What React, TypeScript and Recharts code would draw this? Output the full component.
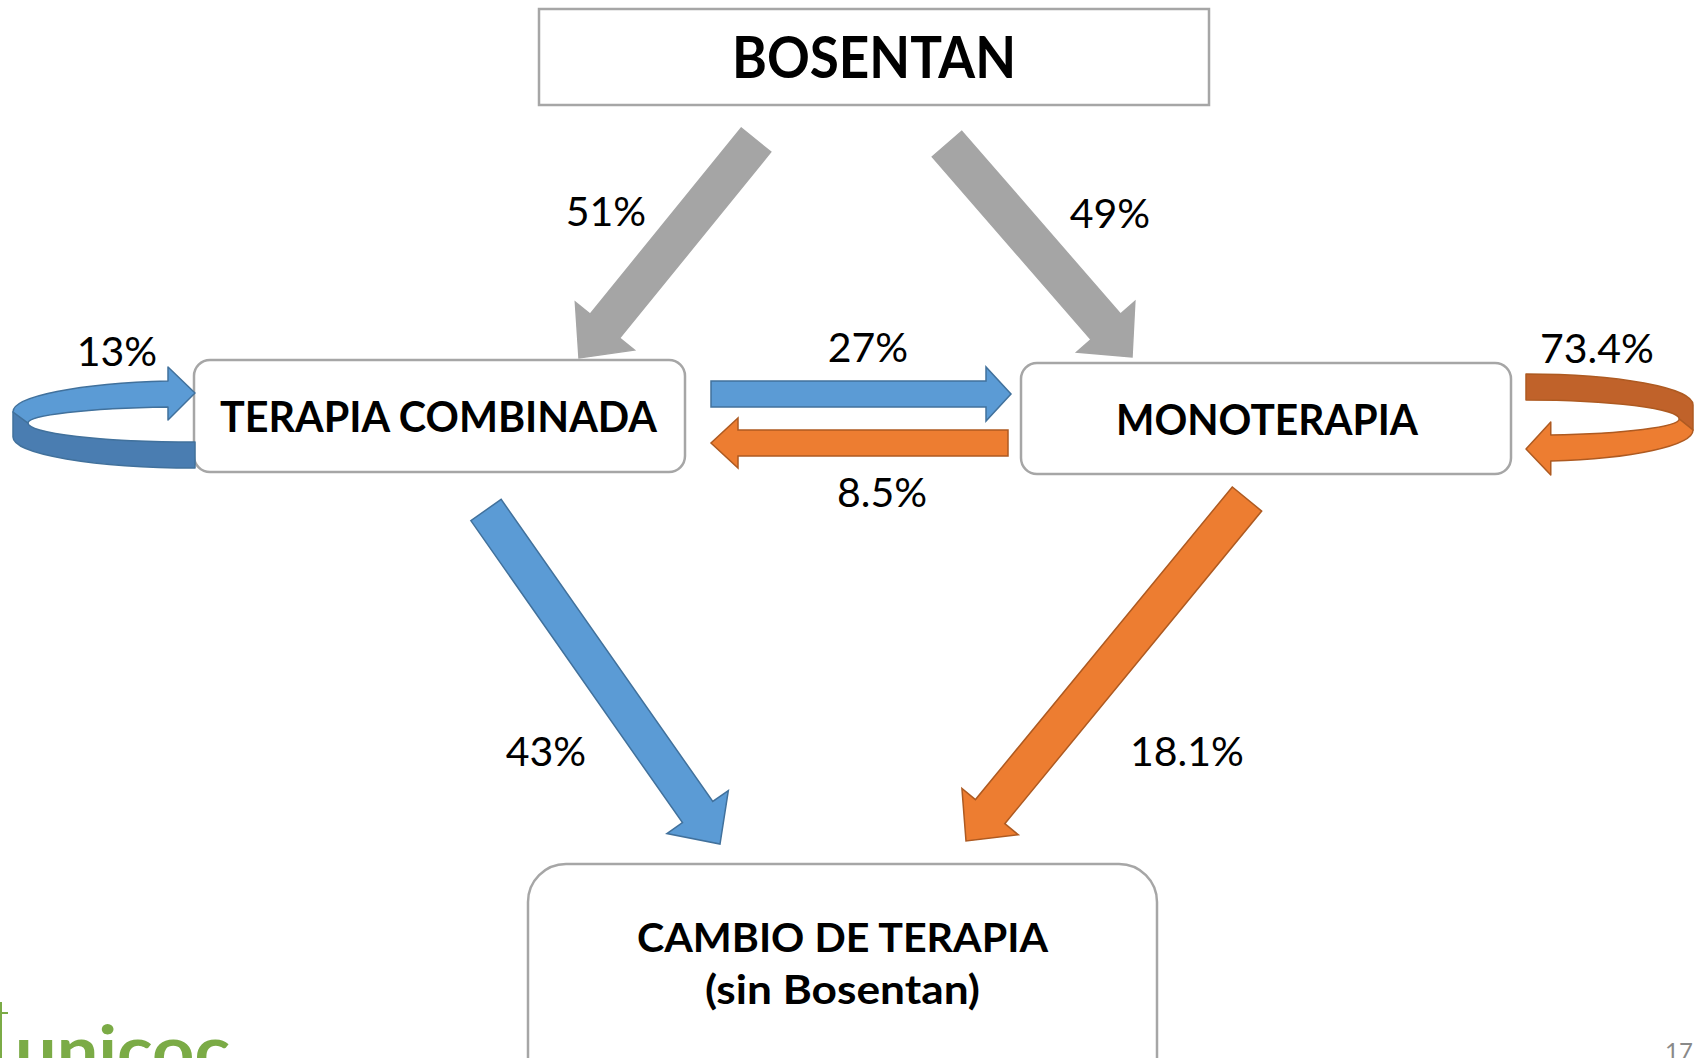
import React from 'react';
import { ScatterChart, Scatter, XAxis, YAxis, ReferenceArea, ReferenceLine } from 'recharts';

// ---------------- data ----------------
const nodeNames = ['BOSENTAN', 'TERAPIA COMBINADA', 'MONOTERAPIA', 'CAMBIO DE TERAPIA'];
const nodeSubtitle = '(sin Bosentan)';
const flowNames = [
  'Bosentan → Terapia combinada',
  'Bosentan → Monoterapia',
  'Terapia combinada → Terapia combinada',
  'Terapia combinada → Monoterapia',
  'Monoterapia → Monoterapia',
  'Monoterapia → Terapia combinada',
  'Terapia combinada → Cambio de terapia',
  'Monoterapia → Cambio de terapia',
];
const flowPercents = [51, 49, 13, 27, 73.4, 8.5, 43, 18.1];
const logoText = 'unicoc';
const pageNumber = '17';

// ---------------- layout (diagram coordinates) ----------------
const W = 1694;
const H = 1058;
const FONT = "Lato, 'Liberation Sans', Arial, sans-serif";
const CAP = 0.7165;

const NODE_BOX = [
  { x1: 539, x2: 1209, y1: 9, y2: 105, r: 0 },
  { x1: 194, x2: 685, y1: 360, y2: 472, r: 16 },
  { x1: 1021, x2: 1511, y1: 363, y2: 474, r: 16 },
  { x1: 528, x2: 1157, y1: 864, y2: 1100, r: 38 },
];
const NODE_TEXT_POS = [
  [874, 57.5],
  [438.5, 417],
  [1267, 420],
  [842.5, 937.5],
];
const NODE_TEXT_SIZE = [57, 42, 42, 41];
const NODE_TEXT_LEN = [284, 437, 302, 411];
const SUBTITLE_POS = [842.5, 989.5];
const SUBTITLE_LEN = 275;

const LABEL_POS = [
  [606, 211],
  [1110, 213],
  [117, 351],
  [868, 347],
  [1597, 348],
  [882, 492],
  [546, 751],
  [1187, 751],
];

// straight block arrows: flow index -> tail, tip, widths
const GRAY = { fill: '#a5a5a5', stroke: '#a5a5a5' };
const BLUE = { fill: '#5b9bd5', stroke: '#41719c' };
const ORANGE = { fill: '#ed7d31', stroke: '#ae5a21' };
const ARROWS = [
  { flow: 0, tail: [756, 140], tip: [579, 358], w: 38, hw: 76, hl: 41, c: GRAY },
  { flow: 1, tail: [947, 144], tip: [1132, 357], w: 39, hw: 77, hl: 40, c: GRAY },
  { flow: 3, tail: [711, 394], tip: [1011, 394], w: 26, hw: 54, hl: 25, c: BLUE },
  { flow: 5, tail: [1008, 443], tip: [711, 443], w: 26, hw: 50, hl: 27, c: ORANGE },
  { flow: 6, tail: [486, 510], tip: [720, 844], w: 37, hw: 75, hl: 39, c: BLUE },
  { flow: 7, tail: [1247, 499], tip: [966, 841], w: 38, hw: 73, hl: 38, c: ORANGE },
];
// self loops
const LOOPS = [
  { flow: 2, x1: 13, x2: 195, y1: 367, y2: 468, side: 'left', light: '#5b9bd5', dark: '#4a7db1', stroke: '#41719c' },
  { flow: 4, x1: 1526, x2: 1693, y1: 374, y2: 475, side: 'right', light: '#ed7d31', dark: '#c0622a', stroke: '#ae5a21' },
];

// ---------------- derived tables for the chart ----------------
const labelData = flowPercents.map((v, i) => ({ x: LABEL_POS[i][0], y: LABEL_POS[i][1], text: `${v}%`, name: flowNames[i] }));
const nodeTextData = nodeNames.map((n, i) => ({ x: NODE_TEXT_POS[i][0], y: NODE_TEXT_POS[i][1], text: n, i }));
const subtitleData = [{ x: SUBTITLE_POS[0], y: SUBTITLE_POS[1], text: nodeSubtitle }];
const logoData = [{ x: 15, y: 1057, text: logoText }];
const pageData = [{ x: 1679, y: 1051.5, text: pageNumber }];

// ---------------- shapes ----------------
function blockArrowPath(x1: number, y1: number, x2: number, y2: number, w: number, hw: number, hl: number) {
  const dx = x2 - x1;
  const dy = y2 - y1;
  const L = Math.hypot(dx, dy);
  const ux = dx / L;
  const uy = dy / L;
  const nx = -uy;
  const ny = ux;
  const bx = x2 - ux * hl;
  const by = y2 - uy * hl;
  const pts = [
    [x1 + (nx * w) / 2, y1 + (ny * w) / 2],
    [bx + (nx * w) / 2, by + (ny * w) / 2],
    [bx + (nx * hw) / 2, by + (ny * hw) / 2],
    [x2, y2],
    [bx - (nx * hw) / 2, by - (ny * hw) / 2],
    [bx - (nx * w) / 2, by - (ny * w) / 2],
    [x1 - (nx * w) / 2, y1 - (ny * w) / 2],
  ];
  return 'M' + pts.map((p) => `${p[0].toFixed(2)},${p[1].toFixed(2)}`).join(' L') + ' Z';
}

function loopPaths(x: number, y: number, w: number, h: number, side: string) {
  const sx = w / 182;
  const sy = h / 101;
  const P = (u: number, v: number) =>
    side === 'left'
      ? `${(x + w - u * sx).toFixed(2)},${(y + v * sy).toFixed(2)}`
      : `${(x + u * sx).toFixed(2)},${(y + h - v * sy).toFixed(2)}`;
  const A = (rx: number, ry: number, sweep: number, u: number, v: number) =>
    `A${(rx * sx).toFixed(2)},${(ry * sy).toFixed(2)} 0 0 ${sweep} ${P(u, v)}`;
  const light =
    `M${P(27, 14)} L${P(27, 0)} L${P(0, 26)} L${P(27, 53)} L${P(27, 40)} ` +
    `${A(167, 16.2, 0, 167, 56)} L${P(182, 45)} ${A(182, 31.3, 1, 27, 14)} Z`;
  const dark =
    `M${P(182, 45)} L${P(182, 70)} ${A(182, 31, 0, 0, 101)} L${P(0, 75)} ` +
    `${A(167, 19, 1, 167, 56)} Z`;
  return { light, dark };
}

const PercentText = (props: any) => {
  const { cx, cy, payload } = props;
  const size = 41;
  return (
    <text x={cx} y={cy + (size * CAP) / 2} textAnchor="middle" fontFamily={FONT} fontSize={size} fill="#000000">
      {payload.text}
    </text>
  );
};

const NodeText = (props: any) => {
  const { cx, cy, payload } = props;
  const size = NODE_TEXT_SIZE[payload.i];
  return (
    <text
      x={cx}
      y={cy + (size * CAP) / 2}
      textAnchor="middle"
      fontFamily={FONT}
      fontWeight="bold"
      fontSize={size}
      fill="#000000"
      textLength={NODE_TEXT_LEN[payload.i]}
      lengthAdjust="spacingAndGlyphs"
    >
      {payload.text}
    </text>
  );
};

const SubtitleText = (props: any) => {
  const { cx, cy, payload } = props;
  const size = 41;
  return (
    <text
      x={cx}
      y={cy + (size * CAP) / 2}
      textAnchor="middle"
      fontFamily={FONT}
      fontWeight="bold"
      fontSize={size}
      fill="#000000"
      textLength={SUBTITLE_LEN}
      lengthAdjust="spacingAndGlyphs"
    >
      {payload.text}
    </text>
  );
};

const LogoText = (props: any) => {
  const { cx, cy, payload } = props;
  return (
    <g>
      <path d={`M${cx - 14},${cy - 55} L${cx - 14},${cy + 10} M${cx - 15},${cy - 44} L${cx - 7},${cy - 44}`} stroke="#7bab46" strokeWidth={2} fill="none" />
      <text
        x={cx}
        y={cy + 17}
        fontFamily={FONT}
        fontWeight="bold"
        fontSize={66}
        fill="#7bab46"
        textLength={215}
        lengthAdjust="spacingAndGlyphs"
      >
        {payload.text}
      </text>
    </g>
  );
};

const PageText = (props: any) => {
  const { cx, cy, payload } = props;
  const size = 24;
  return (
    <text x={cx} y={cy + (size * CAP) / 2} textAnchor="middle" fontFamily={FONT} fontSize={size} fill="#898989">
      {payload.text}
    </text>
  );
};

export default function App() {
  return (
    <div style={{ position: 'absolute', left: 0, top: 0, width: W, height: H, background: '#ffffff' }}>
      <ScatterChart width={W} height={H} margin={{ top: 0, right: 0, bottom: 0, left: 0 }}>
        <XAxis type="number" dataKey="x" domain={[0, W]} allowDataOverflow hide />
        <YAxis type="number" dataKey="y" domain={[0, H]} allowDataOverflow reversed hide />

        {NODE_BOX.map((b, i) => (
          <ReferenceArea
            key={`box-${i}`}
            x1={b.x1}
            x2={b.x2}
            y1={b.y1}
            y2={b.y2}
            ifOverflow="visible"
            shape={(p: any) => (
              <rect
                x={p.x}
                y={p.y}
                width={p.width}
                height={p.height}
                rx={b.r}
                ry={b.r}
                fill="#ffffff"
                stroke="#a6a6a6"
                strokeWidth={2.5}
              />
            )}
          />
        ))}

        {ARROWS.map((a, i) => (
          <ReferenceLine
            key={`arrow-${i}`}
            segment={[
              { x: a.tail[0], y: a.tail[1] },
              { x: a.tip[0], y: a.tip[1] },
            ]}
            ifOverflow="visible"
            shape={(p: any) => (
              <path
                d={blockArrowPath(p.x1, p.y1, p.x2, p.y2, a.w, a.hw, a.hl)}
                fill={a.c.fill}
                stroke={a.c.stroke}
                strokeWidth={1.5}
                strokeLinejoin="miter"
              />
            )}
          />
        ))}

        {LOOPS.map((l, i) => (
          <ReferenceArea
            key={`loop-${i}`}
            x1={l.x1}
            x2={l.x2}
            y1={l.y1}
            y2={l.y2}
            ifOverflow="visible"
            shape={(p: any) => {
              const d = loopPaths(p.x, p.y, p.width, p.height, l.side);
              return (
                <g>
                  <path d={d.dark} fill={l.dark} stroke={l.stroke} strokeWidth={1.5} strokeLinejoin="round" />
                  <path d={d.light} fill={l.light} stroke={l.stroke} strokeWidth={1.5} strokeLinejoin="round" />
                </g>
              );
            }}
          />
        ))}

        <Scatter name="flows" data={labelData} shape={PercentText} isAnimationActive={false} />
        <Scatter name="nodes" data={nodeTextData} shape={NodeText} isAnimationActive={false} />
        <Scatter name="subtitle" data={subtitleData} shape={SubtitleText} isAnimationActive={false} />
        <Scatter name="logo" data={logoData} shape={LogoText} isAnimationActive={false} />
        <Scatter name="page" data={pageData} shape={PageText} isAnimationActive={false} />
      </ScatterChart>
    </div>
  );
}
